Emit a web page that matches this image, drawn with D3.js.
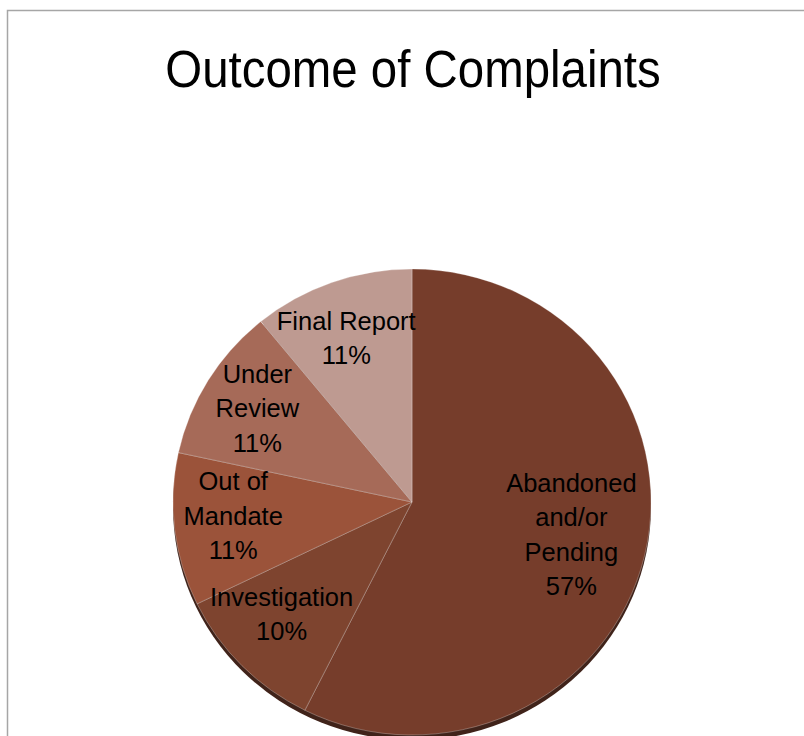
<!DOCTYPE html>
<html>
<head>
<meta charset="utf-8">
<script src="https://cdn.jsdelivr.net/npm/d3@7"></script>
<style>
  body { margin: 0; background: #fff; }
  text { font-family: "Liberation Sans", Arial, sans-serif; }
</style>
</head>
<body>
<div id="chart"></div>
<script>
// Data (shares in %, labels show them rounded)
const categories = ["Abandoned and/or Pending", "Investigation", "Out of Mandate", "Under Review", "Final Report"];
const values = [57.4, 10.4, 10.6, 10.7, 10.9];
const labelLines = [
    ["Abandoned", "and/or", "Pending"],
    ["Investigation"],
    ["Out of", "Mandate"],
    ["Under", "Review"],
    ["Final Report"]
];
const colors = ["#763d2b", "#7e442f", "#9b533a", "#a66a58", "#be9a91"];

const width = 804;
const height = 736;

const svg = d3.select("#chart")
    .append("svg")
    .attr("width", width)
    .attr("height", height);

// chart area frame (runs off the right and bottom)
svg.append("rect")
    .attr("x", 7.5).attr("y", 10.5)
    .attr("width", 1000).attr("height", 1000)
    .attr("fill", "none")
    .attr("stroke", "#a6a6a6")
    .attr("stroke-width", 1.5);

// title
svg.append("text")
    .attr("x", 0).attr("y", 0)
    .attr("transform", "translate(413,87) scale(0.93,1)")
    .attr("text-anchor", "middle")
    .attr("font-size", 51)
    .attr("fill", "#000")
    .text("Outcome of Complaints");

// pie geometry (slightly squashed, like the tilted original)
const cx = 412, cy = 502;
const R = 239;
const sy = 233 / 239;

const pie = d3.pie().sort(null).value(d => d)(values);
const arc = d3.arc().innerRadius(0).outerRadius(R);
const labelArc = d3.arc().innerRadius(172).outerRadius(172);

// dark depth edge under the pie
svg.append("ellipse")
    .attr("cx", cx).attr("cy", cy + 5)
    .attr("rx", R).attr("ry", R * sy)
    .attr("fill", "#40231a");

const g = svg.append("g")
    .attr("transform", `translate(${cx},${cy}) scale(1,${sy})`);

g.selectAll("path")
    .data(pie)
    .join("path")
    .attr("d", arc)
    .attr("fill", (d, i) => colors[i])
    .attr("stroke", "rgba(255,255,255,0.35)")
    .attr("stroke-width", 0.8)
    .append("title")
    .text((d, i) => `${categories[i]}: ${Math.round(values[i])}%`);

// labels, centred a little up-left of the pie centre (3D label placement)
const lineH = 34.5;
const labels = svg.append("g");
pie.forEach((d, i) => {
    const [lx, ly] = labelArc.centroid(d);
    const lines = labelLines[i].concat([d3.format(".0%")(values[i] / d3.sum(values))]);
    const x = cx - 8 + lx;
    const y = cy - 6 + ly * sy - (lines.length - 1) * lineH / 2;
    const t = labels.append("text")
        .attr("text-anchor", "middle")
        .attr("font-size", 25.5)
        .attr("fill", "#000")
        .attr("transform", `translate(${x},${y})`);
    lines.forEach((s, k) => {
        t.append("tspan")
            .attr("x", 0)
            .attr("y", k * lineH)
            .attr("dy", "0.35em")
            .text(s);
    });
});
</script>
</body>
</html>
